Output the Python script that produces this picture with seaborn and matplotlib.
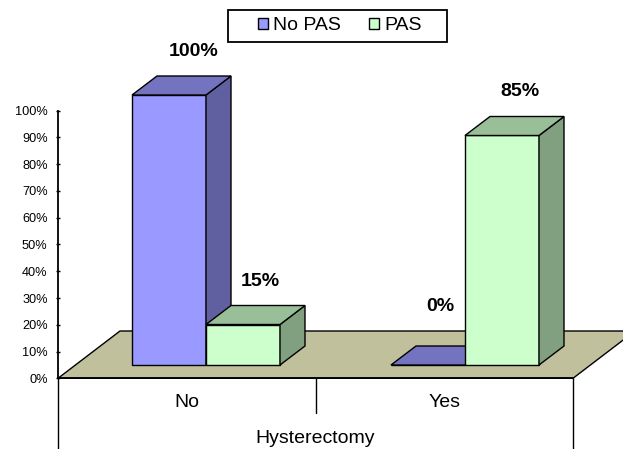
import pandas as pd
import matplotlib.pyplot as plt
from matplotlib.patches import Polygon, Rectangle
import seaborn as sns

# values
categories = ['No', 'Yes']
series = ['No PAS', 'PAS']
no_pas = [100, 0]
pas = [15, 85]
yticks = list(range(0, 101, 10))

front = ['#9999FF', '#CCFFCC']
top = ['#7373BF', '#99BF99']
side = ['#6060A0', '#80A080']
floor = '#C0C09C'

W, H = 623, 449
# pixel offset of each value label from the top centre of its bar
label_offsets = {('No PAS', 0): (25, 43.5), ('PAS', 0): (17.5, 43.5),
                 ('No PAS', 1): (12, 58.5), ('PAS', 1): (17.5, 43.5)}

df = pd.DataFrame({
    'Hysterectomy': categories * 2,
    'series': [series[0]] * 2 + [series[1]] * 2,
    'value': no_pas + pas,
})

sns.set_style('white')
plt.rcParams['font.family'] = ['Liberation Sans', 'DejaVu Sans']
plt.rcParams['text.color'] = 'black'
plt.rcParams['axes.labelcolor'] = 'black'
plt.rcParams['xtick.color'] = 'black'
plt.rcParams['ytick.color'] = 'black'


def px_axes(left, right, top_y, bottom_y):
    return fig.add_axes([left / W, 1 - bottom_y / H, (right - left) / W, (bottom_y - top_y) / H])


fig = plt.figure(figsize=(W / 100, H / 100), dpi=100)

# backdrop in pixel coordinates: floor, group lines, legend box
bg = px_axes(0, W, 0, H)
bg.set_xlim(0, W)
bg.set_ylim(H, 0)
bg.axis('off')
bg.add_patch(Polygon([(58, 378.3), (573, 378.3), (635, 331), (120, 331)],
                     facecolor=floor, edgecolor='black', lw=1))
for x, y2 in [(58, 449), (316, 413), (573, 449)]:
    bg.plot([x, x], [378.3, y2], color='black', lw=1)
bg.add_patch(Rectangle((228, 10), 219, 32, facecolor='white', edgecolor='black', lw=1.3))

# axis with the tick scale
ax = px_axes(58, 573, 110.7, 378.3)
ax.patch.set_alpha(0)
ax.set_xlim(-0.5, 1.5)
ax.set_ylim(0, 100)
ax.set_yticks(yticks)
ax.set_yticklabels([f'{t}%' for t in yticks], fontsize=9.2)
ax.set_xticks([0, 1])
ax.set_xticklabels(categories, fontsize=14)
ax.set_xlabel('Hysterectomy', fontsize=14, labelpad=14)
ax.tick_params(axis='y', direction='inout', length=3, width=1, left=True, pad=6)
ax.tick_params(axis='x', length=0, pad=11)
for name in ['top', 'right']:
    ax.spines[name].set_visible(False)
for name in ['left', 'bottom']:
    ax.spines[name].set_color('black')
    ax.spines[name].set_linewidth(1.3)

# bars sit further back on the floor than the axis line
bars = px_axes(76.5, 594.5, 95, 365)
bars.patch.set_alpha(0)
sns.barplot(data=df, x='Hysterectomy', y='value', hue='series', hue_order=series,
            order=categories, palette=front, width=0.5714, saturation=1, dodge=True,
            edgecolor='black', linewidth=1, ax=bars)
bars.set_xlim(-0.5, 1.5)
bars.set_ylim(0, 100)
bars.axis('off')

dx = 25 / 259
dy = 19 / 2.7
for s, container in enumerate(bars.containers):
    for c, bar in enumerate(container):
        x0, x1 = bar.get_x(), bar.get_x() + bar.get_width()
        h = bar.get_height()
        z = 3 + s
        bar.set_zorder(z)
        bar.set_clip_on(False)
        if h > 0:
            bars.add_patch(Polygon([(x1, 0), (x1 + dx, dy), (x1 + dx, h + dy), (x1, h)],
                                   facecolor=side[s], edgecolor='black', lw=1, zorder=z, clip_on=False))
        bars.add_patch(Polygon([(x0, h), (x1, h), (x1 + dx, h + dy), (x0 + dx, h + dy)],
                               facecolor=top[s], edgecolor='black', lw=1, zorder=z, clip_on=False))
        off = label_offsets[(series[s], c)]
        bars.annotate(f'{h:.0f}%', ((x0 + x1) / 2, h), xytext=off, textcoords='offset pixels',
                      ha='center', va='center', fontsize=14, fontweight='bold', color='black',
                      annotation_clip=False, zorder=8)

sns.move_legend(bars, 'center', bbox_to_anchor=(340 / W, 1 - 26 / H),
                bbox_transform=fig.transFigure, frameon=False, ncol=2, title=None,
                fontsize=14, handlelength=0.52, handleheight=0.52,
                handletextpad=0.25, columnspacing=1.45, labelcolor='black')

fig.savefig('out.png', dpi=100)
